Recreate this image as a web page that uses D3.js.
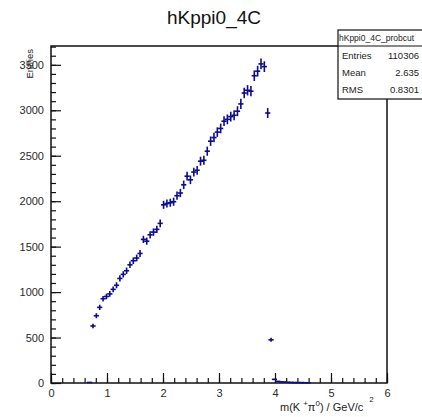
<!DOCTYPE html>
<html lang="en">
  <head>
    <meta charset="UTF-8" />
    <title>hKppi0_4C</title>
    <script src="https://d3js.org/d3.v7.min.js"></script>
    <style>
      body { margin: 0; background: #fff; }
      text { font-family: "Liberation Sans", Arial, sans-serif; }
    </style>
  </head>
  <body>
    <svg id="chart" width="422" height="417"></svg>
    <script>
      // histogram bins (width 0.06 GeV/c^2), centres and contents
      const binCenters = [
        0.69, 0.75, 0.81, 0.87, 0.93, 0.99, 1.05, 1.11, 1.17, 1.23, 1.29, 1.35,
        1.41, 1.47, 1.53, 1.59, 1.65, 1.71, 1.77, 1.83, 1.89, 1.95, 2.01, 2.07,
        2.13, 2.19, 2.25, 2.31, 2.37, 2.43, 2.49, 2.55, 2.61, 2.67, 2.73, 2.79,
        2.85, 2.91, 2.97, 3.03, 3.09, 3.15, 3.21, 3.27, 3.33, 3.39, 3.45, 3.51,
        3.57, 3.63, 3.69, 3.75, 3.81, 3.87, 3.93, 3.99, 4.05, 4.11, 4.17, 4.23,
        4.29, 4.35, 4.41, 4.47, 4.53, 4.59
      ];
      const counts = [
        6, 627, 740, 832, 927, 952, 980, 1030, 1075, 1150, 1195, 1235,
        1300, 1345, 1375, 1425, 1580, 1560, 1630, 1660, 1690, 1756, 1960, 1975,
        1983, 1994, 2060, 2090, 2180, 2275, 2235, 2320, 2340, 2440, 2450, 2550,
        2660, 2700, 2760, 2800, 2880, 2900, 2930, 2945, 2990, 3070, 3190, 3220,
        3210, 3380, 3430, 3510, 3480, 2970, 475, 40, 18, 12, 10, 8,
        6, 5, 4, 4, 3, 2
      ];
      const binWidth = 0.06;
      const xMajor = [0, 1, 2, 3, 4, 5, 6];
      const yMajor = [0, 500, 1000, 1500, 2000, 2500, 3000, 3500];
      const statNames = ["Entries", "Mean", "RMS"];
      const statValues = ["110306", "2.635", "0.8301"];

      const frameL = 51, frameR = 387, frameT = 46, frameB = 383;
      const markColor = "#0c0c8c";

      const svg = d3.select("#chart");
      svg.append("rect").attr("width", 422).attr("height", 417).attr("fill", "#fff");

      const x = d3.scaleLinear().domain([0, 6]).range([frameL, frameR]);
      const y = d3.scaleLinear().domain([0, 3707]).range([frameB, frameT]);

      // minor ticks
      svg.append("g")
        .attr("transform", `translate(0,${frameB})`)
        .call(d3.axisBottom(x).tickValues(d3.range(0, 6.01, 0.2)).tickSize(-5).tickFormat(""))
        .call((g) => g.select(".domain").remove());
      svg.append("g")
        .attr("transform", `translate(${frameL},0)`)
        .call(d3.axisLeft(y).tickValues(d3.range(0, 3701, 100)).tickSize(-5).tickFormat(""))
        .call((g) => g.select(".domain").remove());

      // major ticks with labels
      const xAxis = svg.append("g")
        .attr("transform", `translate(0,${frameB})`)
        .call(d3.axisBottom(x).tickValues(xMajor).tickSize(-10).tickPadding(6).tickFormat(d3.format("d")));
      const yAxis = svg.append("g")
        .attr("transform", `translate(${frameL},0)`)
        .call(d3.axisLeft(y).tickValues(yMajor).tickSize(-10).tickPadding(7).tickFormat(d3.format("d")));
      [xAxis, yAxis].forEach((g) => {
        g.select(".domain").remove();
        g.selectAll("text").attr("font-size", 11).attr("fill", "#2a2a2a")
          .attr("font-family", "Liberation Sans, Arial, sans-serif");
      });
      svg.selectAll(".tick line").attr("stroke", "#111").attr("stroke-width", 1.2);

      // frame
      svg.append("rect")
        .attr("x", frameL).attr("y", frameT)
        .attr("width", frameR - frameL).attr("height", frameB - frameT)
        .attr("fill", "none").attr("stroke", "#111").attr("stroke-width", 1.5);

      // error-bar markers (vertical: sqrt(N), horizontal: bin width, at least a few px)
      const bins = binCenters.map((c, i) => ({ c, n: counts[i] }));
      const half = Math.max(x(binWidth / 2) - x(0), 2.6);
      const marks = svg.append("g").attr("stroke", markColor).attr("stroke-width", 1.6);
      marks.selectAll(".ey").data(bins).join("line")
        .attr("x1", (d) => x(d.c)).attr("x2", (d) => x(d.c))
        .attr("y1", (d) => y(d.n - Math.sqrt(d.n)))
        .attr("y2", (d) => y(d.n + Math.sqrt(d.n)));
      marks.selectAll(".ex").data(bins).join("line")
        .attr("x1", (d) => x(d.c) - half).attr("x2", (d) => x(d.c) + half)
        .attr("y1", (d) => y(d.n)).attr("y2", (d) => y(d.n));

      // title
      svg.append("text").attr("x", 214).attr("y", 24)
        .attr("text-anchor", "middle").attr("font-size", 19).attr("fill", "#111")
        .text("hKppi0_4C");

      // axis titles
      svg.append("text")
        .attr("transform", "translate(33,49) rotate(-90)")
        .attr("text-anchor", "end").attr("font-size", 9.5).attr("fill", "#222")
        .text("Entries");

      const xt = svg.append("text").attr("x", 280).attr("y", 411)
        .attr("font-size", 11).attr("fill", "#222");
      xt.append("tspan").text("m(K");
      xt.append("tspan").attr("dx", 3).attr("dy", -5).attr("font-size", 8).text("+");
      xt.append("tspan").attr("dy", 5).text("π");
      xt.append("tspan").attr("dy", -5).attr("font-size", 8).text("0");
      xt.append("tspan").attr("dy", 5).text(") / GeV/c");
      xt.append("tspan").attr("dx", 6).attr("dy", -9).attr("font-size", 8).text("2");

      // stats box
      const box = svg.append("g");
      box.append("clipPath").attr("id", "boxclip")
        .append("rect").attr("x", 338).attr("y", 30).attr("width", 84).attr("height", 69);
      box.append("rect").attr("x", 338).attr("y", 30).attr("width", 90).attr("height", 69)
        .attr("fill", "#fff").attr("stroke", "#111").attr("stroke-width", 1.2);
      box.append("line").attr("x1", 338).attr("x2", 422).attr("y1", 46).attr("y2", 46)
        .attr("stroke", "#111").attr("stroke-width", 1);
      box.append("text").attr("x", 339).attr("y", 41).attr("font-size", 8.5)
        .attr("fill", "#222").attr("clip-path", "url(#boxclip)")
        .text("hKppi0_4C_probcut");
      const rowY = d3.scalePoint().domain(statNames).range([59, 93]);
      box.selectAll(".sn").data(statNames).join("text")
        .attr("x", 342).attr("y", (d) => rowY(d))
        .attr("font-size", 9.5).attr("fill", "#222").text((d) => d);
      box.selectAll(".sv").data(statValues).join("text")
        .attr("x", 419).attr("y", (d, i) => rowY(statNames[i]))
        .attr("text-anchor", "end").attr("font-size", 9.5).attr("fill", "#222").text((d) => d);
    </script>
  </body>
</html>
